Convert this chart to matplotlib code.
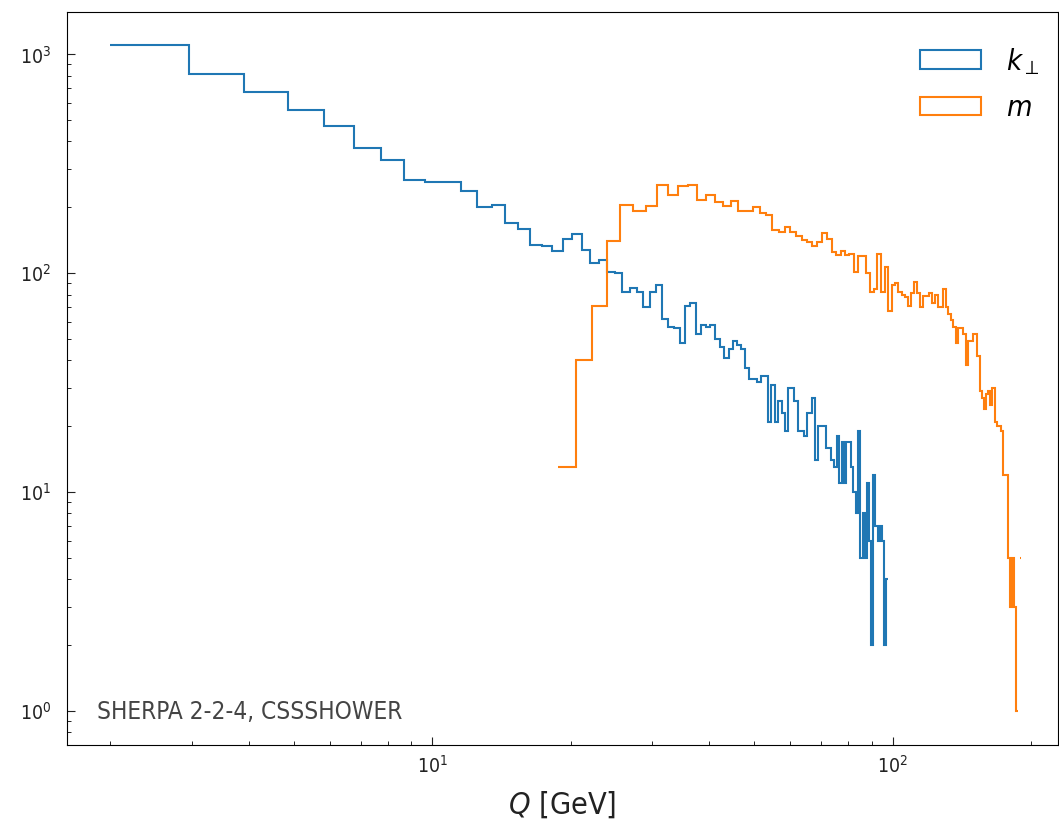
import numpy as np
import matplotlib
matplotlib.use("Agg")
import matplotlib.pyplot as plt

# ---- data: per-bin counts (100 equal-width bins per series) ----
kperp_range = (2.0, 97.5)
mass_range = (18.76, 190.5)
n_bins = 100

kperp_counts = [
    1103, 810, 670, 555, 471, 372, 330, 267, 261, 260,
    237, 201, 206, 170, 159, 134, 133, 126, 144, 151,
    128, 111, 115, 101, 100, 82, 86, 82, 70, 82,
    88, 62, 57, 56, 48, 71, 73, 53, 58, 57,
    58, 50, 46, 41, 45, 49, 47, 45, 37, 33,
    33, 32, 34, 34, 21, 31, 21, 26, 23, 19,
    30, 30, 26, 19, 19, 18, 23, 23, 27, 14,
    20, 20, 20, 16, 16, 14, 13, 18, 11, 17,
    11, 17, 17, 13, 10, 8, 19, 5, 8, 5,
    11, 6, 2, 12, 7, 6, 7, 6, 2, 4,
]

mass_counts = [
    13, 40, 71, 141, 206, 193, 202, 254, 227, 250,
    254, 217, 227, 211, 202, 215, 193, 193, 201, 189,
    184, 158, 154, 162, 154, 148, 142, 139, 133, 139,
    152, 144, 125, 121, 126, 121, 123, 101, 120, 120,
    100, 82, 85, 123, 82, 107, 67, 88, 90, 82,
    80, 78, 71, 81, 91, 81, 70, 79, 79, 81,
    73, 80, 70, 70, 85, 70, 65, 61, 57, 48,
    56, 56, 53, 38, 49, 49, 53, 53, 42, 29,
    27, 24, 28, 29, 25, 30, 21, 20, 20, 19,
    12, 12, 12, 5, 3, 5, 3, 1, 0, 5,
]

series_labels = [r"$k_\perp$", r"$m$"]
annotation = "SHERPA 2-2-4, CSSSHOWER"
x_label = r"$Q$ [GeV]"

plt.rcParams["font.family"] = ["DejaVu Sans"]
plt.rcParams["font.stretch"] = "condensed"
plt.rcParams["mathtext.fontset"] = "dejavusans"

fig = plt.figure(figsize=(10.59, 8.26), dpi=100)
ax = fig.add_axes([0.063, 0.098, 0.936, 0.887])

kperp_edges = np.linspace(kperp_range[0], kperp_range[1], n_bins + 1)
mass_edges = np.linspace(mass_range[0], mass_range[1], n_bins + 1)

ax.hist(kperp_edges[:-1], bins=kperp_edges, weights=kperp_counts,
        histtype="step", color="#1f77b4", lw=1.5, label=series_labels[0])
ax.hist(mass_edges[:-1], bins=mass_edges, weights=mass_counts,
        histtype="step", color="#ff7f0e", lw=1.5, label=series_labels[1])

ax.set_xscale("log")
ax.set_yscale("log", nonpositive="mask")
ax.set_xlim(1.607, 228.6)
ax.set_ylim(0.70, 1555)

ax.tick_params(which="both", direction="in", top=False, right=False)
ax.tick_params(which="major", length=6, labelsize=14, colors="#222222")
ax.tick_params(which="minor", length=3)
ax.tick_params(axis="y", which="major", pad=11)
ax.tick_params(axis="x", which="major", pad=7)

ax.set_xlabel(x_label, fontsize=22, color="#222222", labelpad=9)
ax.text(0.031, 0.045, annotation, transform=ax.transAxes,
        fontsize=17.5, color="#444444", va="center", ha="left")

ax.legend(loc="upper right", bbox_to_anchor=(1.008, 0.99), frameon=False,
          fontsize=21, handlelength=2.1, handleheight=0.6,
          handletextpad=0.85, labelspacing=0.6, borderaxespad=0.5)

fig.savefig("out.png", dpi=100)
